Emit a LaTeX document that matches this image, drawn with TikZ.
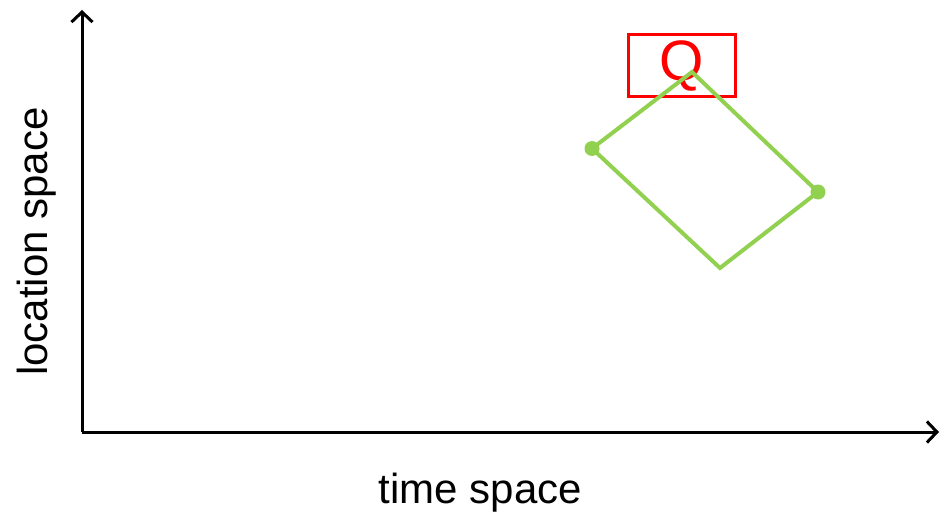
\documentclass[tikz,border=0pt]{standalone}
\usepackage{fontspec}
\setmainfont{Liberation Sans}
\usetikzlibrary{arrows.meta}
\definecolor{qgreen}{RGB}{146,208,80}
\definecolor{qred}{RGB}{255,0,0}
\begin{document}
\begin{tikzpicture}[x=1pt,y=-1pt,
  axis/.style={line width=3pt,-{Straight Barb[length=10pt,width=21pt,line width=3pt]}},
  quad/.style={qgreen,line width=4pt,line join=miter},
  dotq/.style={circle,fill=qgreen,inner sep=0pt,minimum size=15pt},
  lbl/.style={font=\fontsize{42}{42}\selectfont,inner sep=0pt}]
\useasboundingbox (0,0) rectangle (940,516);
\coordinate (o) at (82,432);
\coordinate (ytop) at (82,10);
\coordinate (xend) at (939,432);
\draw[axis] (o) -- (ytop);
\draw[axis] (o) -- (xend);
\node[lbl] (xl) at (480.5,493) {time space};
\node[lbl,rotate=90] (yl) at (37,241.5) {location space};
\node[draw=qred,line width=3pt,minimum width=107pt,minimum height=62pt,inner sep=0pt,
  text=qred,font=\fontsize{57}{57}\selectfont] (q) at (681.5,66) {Q};
\coordinate (t) at (692,72);
\coordinate (l) at (592,148.5);
\coordinate (b) at (720,268);
\coordinate (r) at (818,192);
\draw[quad] (t) -- (r) -- (b) -- (l) -- cycle;
\node[dotq] (dl) at (l) {};
\node[dotq] (dr) at (r) {};
\end{tikzpicture}
\end{document}
